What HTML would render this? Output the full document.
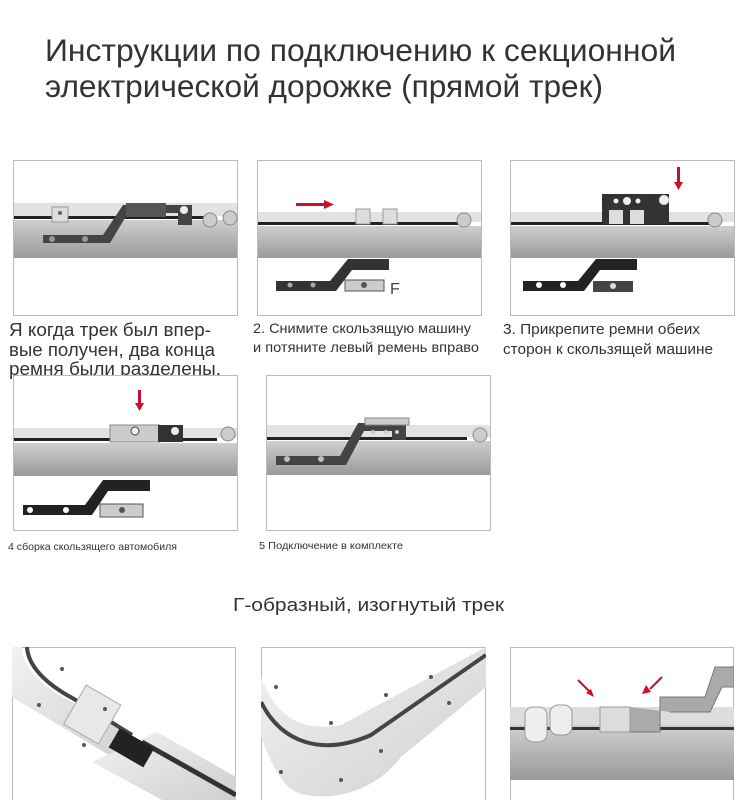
<!DOCTYPE html>
<html><head><meta charset="utf-8"><style>
html,body{margin:0;padding:0;background:#fff;width:750px;height:800px;overflow:hidden}
svg{display:block}
text{font-family:"Liberation Sans","DejaVu Sans",sans-serif}
</style></head><body>
<svg width="750" height="800" viewBox="0 0 750 800" xmlns="http://www.w3.org/2000/svg">
<defs>
<linearGradient id="g" x1="0" y1="0" x2="0" y2="1"><stop offset="0" stop-color="#cfcfcf"/><stop offset="0.5" stop-color="#b4b4b4"/><stop offset="1" stop-color="#9a9a9a"/></linearGradient>
<linearGradient id="rail" x1="0" y1="0" x2="1" y2="1"><stop offset="0" stop-color="#f2f2f2"/><stop offset="1" stop-color="#d0d0d0"/></linearGradient>
</defs>
<text x="45" y="61" font-size="31.5" fill="#333" textLength="631" lengthAdjust="spacingAndGlyphs">Инструкции по подключению к секционной</text>
<text x="45" y="97" font-size="31.5" fill="#333" textLength="558" lengthAdjust="spacingAndGlyphs">электрической дорожке (прямой трек)</text>

<!-- Panel 1 -->
<rect x="13.5" y="160.5" width="224" height="155" fill="#fff" stroke="#bbb"/>
<rect x="14" y="203" width="223" height="13" fill="#e2e2e2"/>
<rect x="14" y="216" width="190" height="3" fill="#222"/>
<rect x="14" y="220" width="223" height="38" fill="url(#g)"/>
<rect x="52" y="207" width="16" height="15" fill="#ddd" stroke="#999"/><circle cx="60" cy="213" r="2" fill="#666"/>
<path d="M43 235 H103 L123 205 H192 V225 H178 V213 H128 L110 243 H43Z" fill="#444"/>
<rect x="126" y="203" width="40" height="14" fill="#555"/>
<circle cx="52" cy="239" r="3" fill="#999"/><circle cx="85" cy="239" r="3" fill="#999"/><circle cx="184" cy="210" r="4" fill="#eee"/>
<circle cx="210" cy="220" r="7" fill="#ccc" stroke="#888"/><circle cx="230" cy="218" r="7" fill="#ccc" stroke="#888"/>
<text x="9" y="336" font-size="18" fill="#333" textLength="202" lengthAdjust="spacingAndGlyphs">Я когда трек был впер-</text>
<text x="9" y="356" font-size="18" fill="#333" textLength="206" lengthAdjust="spacingAndGlyphs">вые получен, два конца</text>
<text x="9" y="375" font-size="18" fill="#333" textLength="212" lengthAdjust="spacingAndGlyphs">ремня были разделены.</text>

<!-- Panel 2 -->
<rect x="257.5" y="160.5" width="224" height="155" fill="#fff" stroke="#bbb"/>
<rect x="258" y="212" width="223" height="10" fill="#e2e2e2"/>
<rect x="258" y="222" width="200" height="3" fill="#222"/>
<rect x="258" y="226" width="223" height="32" fill="url(#g)"/>
<rect x="296" y="203" width="30" height="3" fill="#c8102e"/><path d="M324 200 L334 204.5 L324 209Z" fill="#c8102e"/>
<rect x="356" y="209" width="14" height="15" fill="#ddd" stroke="#999"/><rect x="383" y="209" width="14" height="15" fill="#ddd" stroke="#999"/>
<path d="M276 281 H330 L348 259 H389 V270 H352 L336 291 H276Z" fill="#333"/>
<circle cx="290" cy="285" r="2.5" fill="#aaa"/><circle cx="313" cy="285" r="2.5" fill="#aaa"/>
<rect x="345" y="280" width="39" height="11" fill="#ccc" stroke="#555"/><circle cx="364" cy="285" r="3" fill="#555"/>
<text x="390" y="294" font-size="16" fill="#444">F</text>
<circle cx="464" cy="220" r="7" fill="#ccc" stroke="#888"/>
<text x="253" y="333" font-size="14" fill="#333" textLength="218" lengthAdjust="spacingAndGlyphs">2. Снимите скользящую машину</text>
<text x="253" y="352" font-size="14" fill="#333" textLength="226" lengthAdjust="spacingAndGlyphs">и потяните левый ремень вправо</text>

<!-- Panel 3 -->
<rect x="510.5" y="160.5" width="224" height="155" fill="#fff" stroke="#bbb"/>
<rect x="511" y="212" width="223" height="10" fill="#e2e2e2"/>
<rect x="511" y="222" width="200" height="3" fill="#222"/>
<rect x="511" y="226" width="223" height="32" fill="url(#g)"/>
<rect x="602" y="194" width="67" height="30" fill="#333"/>
<circle cx="616" cy="201" r="2.5" fill="#eee"/><circle cx="627" cy="201" r="4" fill="#eee"/><circle cx="638" cy="201" r="2.5" fill="#eee"/><circle cx="664" cy="200" r="5" fill="#eee"/>
<rect x="609" y="210" width="14" height="14" fill="#ddd"/><rect x="630" y="210" width="14" height="14" fill="#ddd"/>
<rect x="677" y="167" width="3" height="16" fill="#c8102e"/><path d="M674 182 L678.5 190 L683 182Z" fill="#c8102e"/>
<path d="M523 281 H578 L596 259 H637 V270 H600 L584 291 H523Z" fill="#222"/>
<circle cx="539" cy="285" r="3" fill="#fff"/><circle cx="563" cy="285" r="3" fill="#fff"/>
<rect x="593" y="281" width="40" height="11" fill="#444"/><circle cx="613" cy="286" r="3" fill="#ddd"/>
<circle cx="715" cy="220" r="7" fill="#ccc" stroke="#888"/>
<text x="503" y="334" font-size="14.5" fill="#333" textLength="197" lengthAdjust="spacingAndGlyphs">3. Прикрепите ремни обеих</text>
<text x="503" y="354" font-size="14.5" fill="#333" textLength="210" lengthAdjust="spacingAndGlyphs">сторон к скользящей машине</text>

<!-- Panel 4 -->
<rect x="13.5" y="375.5" width="224" height="155" fill="#fff" stroke="#bbb"/>
<rect x="14" y="428" width="223" height="10" fill="#e2e2e2"/>
<rect x="14" y="438" width="203" height="3" fill="#222"/>
<rect x="14" y="443" width="223" height="33" fill="url(#g)"/>
<rect x="110" y="425" width="50" height="17" fill="#ccc" stroke="#888"/><rect x="158" y="425" width="25" height="17" fill="#333"/>
<circle cx="135" cy="431" r="4" fill="#eee" stroke="#444"/><circle cx="175" cy="431" r="4" fill="#eee"/>
<rect x="138" y="390" width="3" height="14" fill="#c8102e"/><path d="M135 403 L139.5 411 L144 403Z" fill="#c8102e"/>
<path d="M23 505 H85 L103 480 H150 V491 H108 L92 515 H23Z" fill="#222"/>
<circle cx="30" cy="510" r="3" fill="#fff"/><circle cx="66" cy="510" r="3" fill="#fff"/>
<rect x="100" y="504" width="43" height="13" fill="#ccc" stroke="#555"/><circle cx="122" cy="510" r="3" fill="#555"/>
<circle cx="228" cy="434" r="7" fill="#ccc" stroke="#888"/>
<text x="8" y="550" font-size="10.5" fill="#333" textLength="169" lengthAdjust="spacingAndGlyphs">4 сборка скользящего автомобиля</text>

<!-- Panel 5 -->
<rect x="266.5" y="375.5" width="224" height="155" fill="#fff" stroke="#bbb"/>
<rect x="267" y="425" width="223" height="12" fill="#e2e2e2"/>
<rect x="267" y="437" width="200" height="3" fill="#222"/>
<rect x="267" y="441" width="223" height="34" fill="url(#g)"/>
<path d="M276 456 H340 L358 423 H406 V440 H392 V431 H364 L346 465 H276Z" fill="#444"/>
<rect x="365" y="418" width="44" height="7" fill="#ccc" stroke="#888"/>
<circle cx="287" cy="459" r="3" fill="#bbb"/><circle cx="321" cy="459" r="3" fill="#bbb"/>
<circle cx="373" cy="432" r="2" fill="#ccc"/><circle cx="386" cy="432" r="2" fill="#ccc"/><circle cx="397" cy="432" r="2" fill="#ccc"/>
<circle cx="480" cy="435" r="7" fill="#ccc" stroke="#888"/>
<text x="259" y="549" font-size="10.5" fill="#333" textLength="144" lengthAdjust="spacingAndGlyphs">5 Подключение в комплекте</text>

<text x="233" y="611" font-size="18.5" fill="#333" textLength="271" lengthAdjust="spacingAndGlyphs">Г-образный, изогнутый трек</text>

<!-- Bottom 1 -->
<svg x="12" y="647" width="224" height="153" viewBox="0 0 224 153">
<rect x="0.5" y="0.5" width="223" height="160" fill="#fff" stroke="#bbb"/>
<path d="M10 0 C10 20 30 40 60 55 L120 90 L125 105 L100 110 L0 50 V0Z" fill="url(#rail)"/>
<path d="M15 0 C16 18 32 36 62 52 L120 88" stroke="#444" stroke-width="4" fill="none"/>
<rect x="60" y="45" width="40" height="45" fill="#e8e8e8" stroke="#aaa" transform="rotate(30 80 68)"/>
<path d="M80 115 L145 85 L224 130 V153 H150Z" fill="url(#rail)"/>
<path d="M130 95 L224 148" stroke="#333" stroke-width="5"/>
<rect x="100" y="90" width="40" height="22" fill="#222" transform="rotate(30 120 100)"/>
<circle cx="50" cy="22" r="2" fill="#555"/><circle cx="27" cy="58" r="2" fill="#555"/><circle cx="93" cy="62" r="2" fill="#555"/><circle cx="72" cy="98" r="2" fill="#555"/>
</svg>
<!-- Bottom 2 -->
<svg x="261" y="647" width="225" height="153" viewBox="0 0 225 153">
<rect x="0.5" y="0.5" width="224" height="160" fill="#fff" stroke="#bbb"/>
<path d="M0 30 C15 70 40 85 80 78 L225 0 V40 L140 110 C110 150 60 155 35 145 C15 135 5 100 0 90Z" fill="url(#rail)"/>
<path d="M0 55 C20 95 60 110 110 88 L225 8" stroke="#444" stroke-width="4" fill="none"/>
<circle cx="15" cy="40" r="2" fill="#555"/><circle cx="70" cy="76" r="2" fill="#555"/><circle cx="125" cy="48" r="2" fill="#555"/><circle cx="170" cy="30" r="2" fill="#555"/><circle cx="20" cy="125" r="2" fill="#555"/><circle cx="80" cy="133" r="2" fill="#555"/><circle cx="120" cy="104" r="2" fill="#555"/><circle cx="188" cy="56" r="2" fill="#555"/>
</svg>
<!-- Bottom 3 -->
<svg x="510" y="647" width="224" height="153" viewBox="0 0 224 153">
<rect x="0.5" y="0.5" width="223" height="160" fill="#fff" stroke="#bbb"/>
<rect x="0" y="60" width="224" height="18" fill="#ddd"/>
<rect x="0" y="78" width="224" height="55" fill="url(#g)"/>
<rect x="0" y="80" width="224" height="3" fill="#333"/>
<path d="M120 60 V85 H150 V50 H195 L205 20 H224 V40 H212 L200 65 H160" fill="#aaa" stroke="#777"/>
<rect x="90" y="60" width="30" height="25" fill="#ddd" stroke="#999"/>
<rect x="15" y="60" width="22" height="35" rx="8" fill="#eee" stroke="#999"/><rect x="40" y="58" width="22" height="30" rx="8" fill="#eee" stroke="#999"/>
<path d="M68 33 L80 45" stroke="#c8102e" stroke-width="2"/><path d="M76 46 L84 50 L81 42Z" fill="#c8102e"/>
<path d="M152 30 L140 42" stroke="#c8102e" stroke-width="2"/><path d="M136 38 L132 47 L141 45Z" fill="#c8102e"/>
</svg>
</svg>
</body></html>
